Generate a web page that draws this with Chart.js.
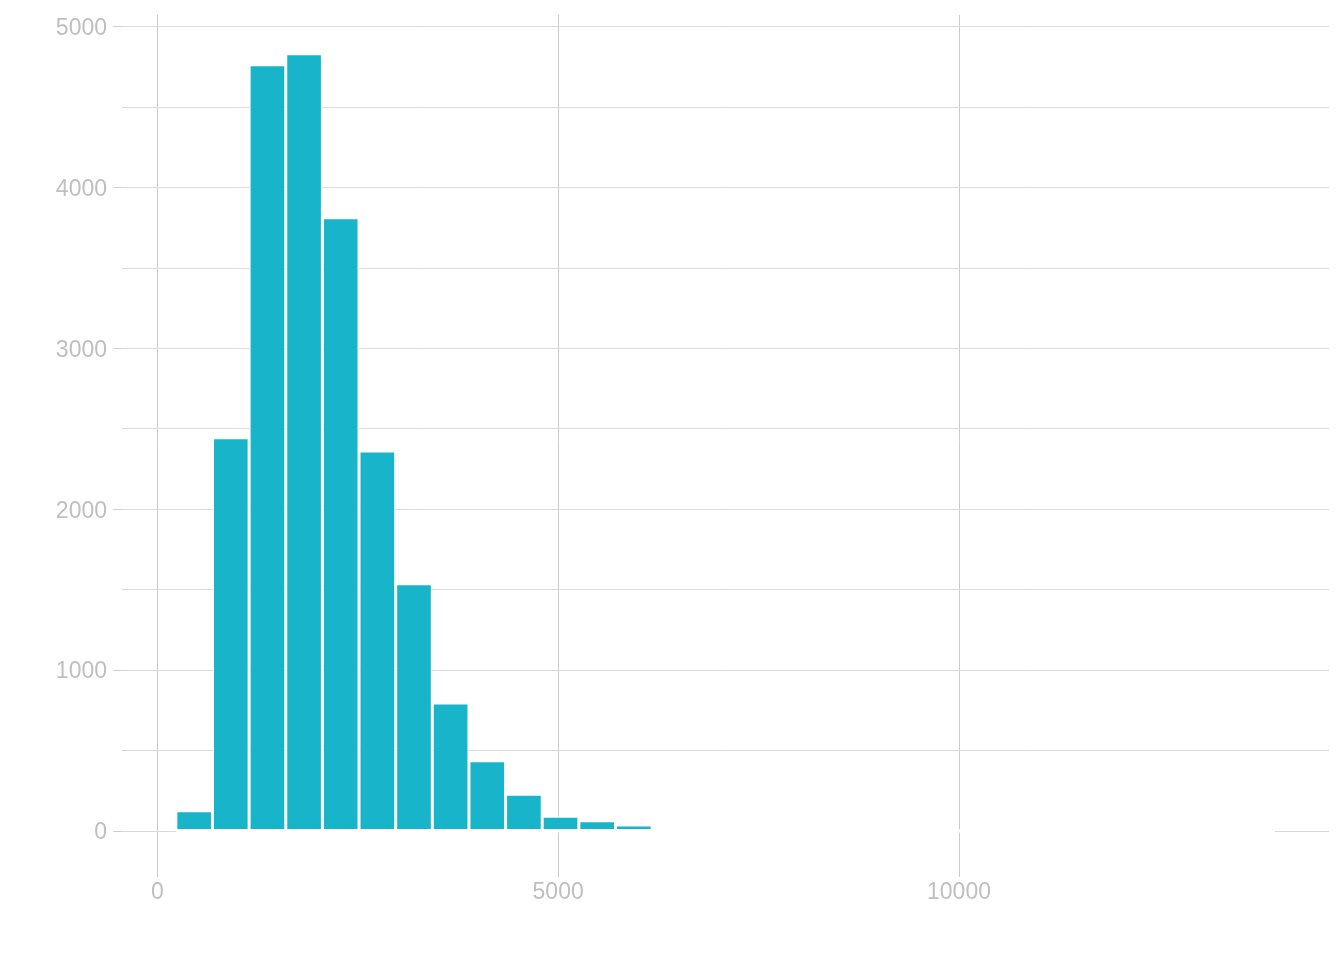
<!DOCTYPE html>
<html>
<head>
<meta charset="utf-8">
<script src="https://cdn.jsdelivr.net/npm/chart.js@4/dist/chart.umd.min.js"></script>
<style>
  html, body { margin: 0; padding: 0; background: #ffffff; }
  #wrap { width: 1344px; height: 960px; position: relative; }
</style>
</head>
<body>
<div id="wrap"><canvas id="chart"></canvas></div>
<script>
// histogram bins (centre of each bin) and their counts
const binCenters = [460, 917, 1374, 1831, 2288, 2745, 3202, 3659, 4116, 4573,
                    5030, 5487, 5944, 6401, 6858, 7315, 7772, 8229, 8686, 9143,
                    9600, 10057, 10514, 10971, 11428, 11885, 12342, 12799, 13256, 13713];
const binCounts = [126, 2445, 4764, 4832, 3813, 2362, 1537, 796, 437, 228,
                   91, 64, 37, 8, 3, 2, 1, 0, 0, 0,
                   0, 0, 0, 1, 0, 0, 0, 1, 0, 1];

const xTickValues = [0, 5000, 10000];
const yGridValues = [0, 500, 1000, 1500, 2000, 2500, 3000, 3500, 4000, 4500, 5000];
const yTickLabels = [0, 1000, 2000, 3000, 4000, 5000];

const barColor = '#17b4ca';
const labelColor = '#bfbfbf';
const hGridColor = '#d9d9d9';
const vGridColor = '#cbcbcb';
const fontFamily = "'Liberation Sans', Arial, sans-serif";

const points = binCenters.map((x, i) => ({ x: x, y: binCounts[i] }));

// empty bins still get a white outline over the baseline, like the original
const binOutline = {
    id: 'binOutline',
    beforeDatasetsDraw(chart) {
        const bars = chart.getDatasetMeta(0).data;
        if (!bars.length) return;
        const first = bars[0], last = bars[bars.length - 1];
        const left = first.x - first.width / 2;
        const right = last.x + last.width / 2;
        const y0 = chart.scales.y.getPixelForValue(0);
        const ctx = chart.ctx;
        ctx.save();
        ctx.fillStyle = '#ffffff';
        ctx.fillRect(left, y0 - 1.5, right - left, 3);
        ctx.restore();
    }
};

new Chart(document.getElementById('chart'), {
    type: 'bar',
    data: {
        datasets: [{
            data: points,
            backgroundColor: barColor,
            borderColor: '#ffffff',
            borderWidth: 1.5,
            borderSkipped: false,
            inflateAmount: 0,
            barPercentage: 1,
            categoryPercentage: 1
        }]
    },
    options: {
        responsive: true,
        maintainAspectRatio: false,
        animation: false,
        layout: { padding: { top: 15, right: 15, bottom: 0, left: 0 } },
        plugins: {
            legend: { display: false },
            tooltip: { enabled: false }
        },
        scales: {
            x: {
                type: 'linear',
                min: -440,
                max: 14615,
                offset: false,
                afterBuildTicks: scale => {
                    scale.ticks = xTickValues.map(v => ({ value: v }));
                },
                afterFit: scale => {
                    scale.height = 92;
                    scale.paddingLeft = 0;
                    scale.paddingRight = 0;
                },
                border: { display: false },
                grid: {
                    color: vGridColor,
                    tickColor: vGridColor,
                    tickLength: 9,
                    offset: false
                },
                ticks: {
                    color: labelColor,
                    font: { family: fontFamily, size: 23 },
                    padding: 2,
                    maxRotation: 0,
                    callback: v => String(v)
                }
            },
            y: {
                min: -230,
                max: 5073,
                afterBuildTicks: scale => {
                    scale.ticks = yGridValues.map(v => ({ value: v }));
                },
                afterFit: scale => {
                    scale.width = 122;
                    scale.paddingTop = 0;
                    scale.paddingBottom = 0;
                },
                border: { display: false },
                grid: {
                    color: hGridColor,
                    tickColor: ctx => yTickLabels.includes(ctx.tick.value) ? '#cfcfcf' : 'rgba(0,0,0,0)',
                    tickLength: 9
                },
                ticks: {
                    color: labelColor,
                    font: { family: fontFamily, size: 23 },
                    padding: 6,
                    labelOffset: 2,
                    callback: v => yTickLabels.includes(v) ? String(v) : ''
                }
            }
        }
    },
    plugins: [binOutline]
});
</script>
</body>
</html>
